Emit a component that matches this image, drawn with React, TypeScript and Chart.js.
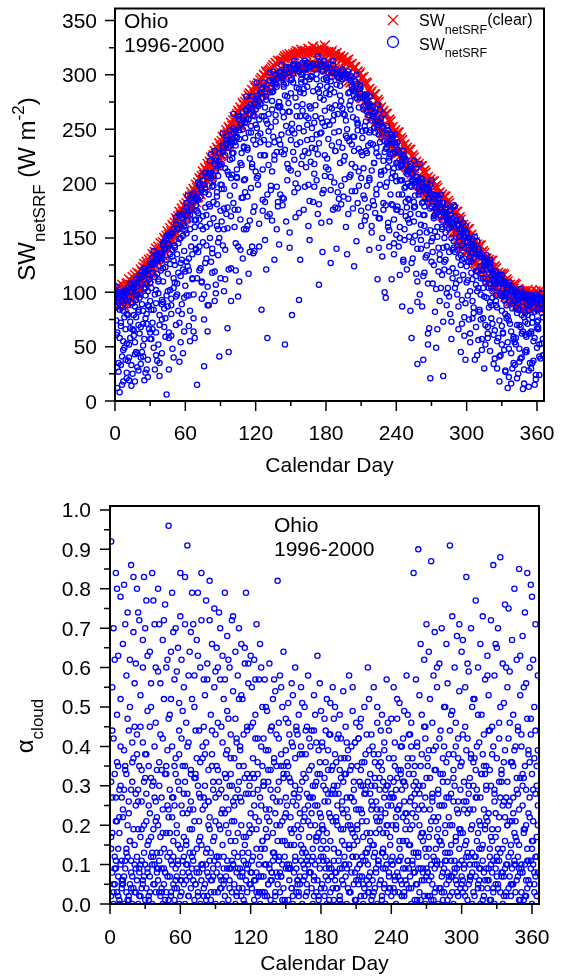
import React, { useEffect, useRef } from 'react';
import { Chart, registerables } from 'chart.js';

Chart.register(...registerables);

const FONT = '"Liberation Sans", Arial, Helvetica, sans-serif';
const NA = null;

// Calendar days (x categories)
const DAYS = [
  1,2,3,4,5,6,7,8,9,10,11,12,13,14,15,16,17,18,19,20,
  21,22,23,24,25,26,27,28,29,30,31,32,33,34,35,36,37,38,39,40,
  41,42,43,44,45,46,47,48,49,50,51,52,53,54,55,56,57,58,59,60,
  61,62,63,64,65,66,67,68,69,70,71,72,73,74,75,76,77,78,79,80,
  81,82,83,84,85,86,87,88,89,90,91,92,93,94,95,96,97,98,99,100,
  101,102,103,104,105,106,107,108,109,110,111,112,113,114,115,116,117,118,119,120,
  121,122,123,124,125,126,127,128,129,130,131,132,133,134,135,136,137,138,139,140,
  141,142,143,144,145,146,147,148,149,150,151,152,153,154,155,156,157,158,159,160,
  161,162,163,164,165,166,167,168,169,170,171,172,173,174,175,176,177,178,179,180,
  181,182,183,184,185,186,187,188,189,190,191,192,193,194,195,196,197,198,199,200,
  201,202,203,204,205,206,207,208,209,210,211,212,213,214,215,216,217,218,219,220,
  221,222,223,224,225,226,227,228,229,230,231,232,233,234,235,236,237,238,239,240,
  241,242,243,244,245,246,247,248,249,250,251,252,253,254,255,256,257,258,259,260,
  261,262,263,264,265,266,267,268,269,270,271,272,273,274,275,276,277,278,279,280,
  281,282,283,284,285,286,287,288,289,290,291,292,293,294,295,296,297,298,299,300,
  301,302,303,304,305,306,307,308,309,310,311,312,313,314,315,316,317,318,319,320,
  321,322,323,324,325,326,327,328,329,330,331,332,333,334,335,336,337,338,339,340,
  341,342,343,344,345,346,347,348,349,350,351,352,353,354,355,356,357,358,359,360,
  361,362,363,364,365,
];

// Clear-sky net surface SW (upper and lower part of the red band)
const CLEAR_HI = [
  104,99,106,102,100,107,103,105,101,108, 108,112,106,110,114,109,116,111,118,113,
  117,121,119,123,126,122,128,125,130,127, 131,135,133,137,140,136,142,139,145,141,
  146,150,148,152,156,153,159,156,162,160, 164,168,166,170,174,171,177,174,180,178,
  182,186,184,188,192,189,195,193,199,196, 201,205,203,207,211,208,214,212,218,215,
  220,224,222,226,230,227,233,231,237,234, 239,243,241,245,249,246,252,250,256,253,
  258,261,260,264,267,265,270,268,274,272, 275,278,277,281,283,282,286,285,290,288,
  290,292,292,295,297,296,300,299,303,301, 303,304,305,307,309,308,311,310,313,312,
  312,313,313,315,317,315,318,316,319,317, 317,319,318,320,322,319,321,320,323,321,
  320,322,319,321,324,320,322,321,326,322, 321,323,320,322,325,320,322,321,327,321,
  320,321,318,320,322,317,319,317,320,316, 315,317,313,315,316,311,313,311,314,309,
  309,310,305,307,307,302,303,300,302,297, 297,298,292,293,292,286,287,283,285,280,
  282,282,276,277,275,269,270,265,267,262, 264,264,258,259,257,251,252,247,249,244,
  247,247,241,242,240,235,236,231,233,229, 231,231,225,226,224,219,220,216,218,214,
  216,216,211,212,210,205,206,202,204,200, 202,202,197,198,196,191,192,188,190,186,
  188,188,183,184,182,177,178,174,176,172, 174,174,168,169,167,161,162,158,160,156,
  158,158,152,153,150,145,146,142,144,140, 143,143,137,138,136,131,131,128,130,126,
  129,129,123,124,122,117,118,115,117,114, 117,116,111,112,110,106,107,104,106,103,
  108,107,102,103,101,98,100,98,101,97, 101,102,97,99,101,96,98,97,101,96,
  100,98,102,97,100,
];
const CLEAR_LO = [
  90,94,88,92,89,95,91,87,93,90, 97,94,99,96,101,98,95,102,99,104,
  106,109,104,111,108,113,110,116,113,118, 120,123,119,126,124,129,127,132,130,134,
  134,138,136,142,140,145,143,148,147,151, 152,155,154,159,158,162,161,166,165,168,
  169,173,171,177,176,180,179,184,183,187, 188,191,190,196,195,199,198,203,202,206,
  207,210,209,215,214,218,217,222,221,225, 226,229,228,234,233,237,236,241,240,244,
  244,247,247,252,251,254,254,258,257,261, 261,264,264,268,267,270,270,273,273,276,
  276,279,278,282,282,284,284,287,287,289, 289,291,291,294,293,296,295,297,297,299,
  298,300,300,302,301,303,302,304,303,305, 303,305,304,306,305,307,306,308,306,308,
  306,308,307,309,307,309,308,310,308,310, 307,309,307,310,308,309,307,310,308,309,
  306,308,305,307,304,306,303,305,302,304, 301,303,299,301,298,299,296,297,294,295,
  293,294,290,290,287,287,283,283,280,279, 279,279,275,274,271,270,266,265,262,260,
  263,262,258,257,254,252,249,247,245,243, 246,244,241,239,237,235,233,231,229,227,
  229,228,225,223,222,220,218,216,215,213, 213,212,209,207,206,204,202,201,199,198,
  198,197,194,193,191,190,188,187,185,184, 184,183,180,179,177,176,174,173,171,170,
  170,169,166,165,163,162,159,158,156,155, 155,154,150,149,146,145,142,141,138,137,
  139,138,134,133,131,129,127,126,123,122, 125,124,120,119,117,116,114,113,111,110,
  112,111,107,107,105,104,102,101,100,99, 100,99,96,96,94,94,92,92,91,90,
  91,91,88,89,87,88,86,87,85,86, 86,87,85,88,86,87,85,88,86,87,
  86,88,85,87,86,
];

// Daily net surface SW, one array per year (W m-2); NA = missing day
const SW_Y1 = [
  98,NA,95,99,NA,97,100,NA,102,99, 104,NA,108,106,NA,103,NA,112,105,NA,
  116,NA,120,NA,122,119,108,NA,121,126, NA,132,126,NA,133,NA,131,136,NA,134,
  143,NA,140,150,NA,153,NA,155,NA,158, NA,163,NA,158,170,NA,172,NA,175,NA,
  178,NA,NA,186,NA,189,NA,NA,187,NA, NA,199,NA,194,NA,NA,210,NA,NA,209,
  209,NA,NA,207,NA,221,NA,NA,220,NA, NA,233,NA,NA,240,NA,NA,235,NA,241,
  247,NA,NA,242,NA,259,NA,NA,258,NA, NA,268,NA,259,NA,NA,269,NA,273,NA,
  278,NA,NA,273,NA,288,NA,NA,287,NA, NA,295,NA,284,NA,NA,293,NA,NA,302,
  299,NA,NA,291,NA,305,NA,NA,302,NA, NA,308,NA,NA,306,NA,303,NA,NA,311,
  306,NA,NA,298,NA,308,NA,NA,309,NA, NA,310,NA,NA,310,NA,304,NA,NA,307,
  306,NA,NA,294,NA,303,NA,NA,302,NA, NA,300,NA,NA,300,NA,301,NA,NA,297,
  295,NA,NA,281,NA,292,NA,NA,284,NA, NA,281,NA,NA,276,NA,272,NA,NA,271,
  266,NA,NA,252,NA,257,NA,NA,251,NA, NA,246,NA,NA,241,NA,237,NA,NA,235,
  231,NA,NA,217,NA,223,NA,NA,217,NA, NA,215,NA,202,NA,NA,206,NA,202,NA,
  201,NA,197,NA,NA,194,NA,193,NA,190, NA,186,NA,174,181,NA,178,NA,174,NA,
  174,NA,169,NA,167,NA,164,NA,160,NA, 166,NA,161,151,NA,158,NA,157,151,NA,
  150,NA,145,136,NA,142,140,NA,135,NA, 135,133,NA,121,128,NA,125,126,NA,123,
  121,NA,117,108,115,NA,113,NA,109,111, 109,108,NA,97,104,NA,102,103,NA,101,
  100,NA,98,90,NA,98,96,NA,94,96, 96,95,NA,88,94,NA,93,95,NA,95,
  94,NA,93,95,NA,
];
const SW_Y2 = [
  74,12,91,58,33,86,47,95,66,21, 88,40,67,101,25,79,54,93,31,70,
  62,108,45,83,19,97,71,38,112,57, 104,66,128,29,90,117,52,79,131,44,
  122,85,141,6,101,63,135,94,48,113, 143,70,108,158,36,127,89,152,64,119,
  97,166,131,55,178,112,76,160,139,15, 173,120,188,94,146,32,196,131,105,181,
  150,205,118,183,92,212,161,134,41,199, 218,143,101,226,172,67,233,189,122,208,
  182,238,145,213,96,249,167,228,131,203, 256,158,231,117,264,196,142,240,179,268,
  205,271,163,246,84,279,226,148,258,190, 264,172,288,211,243,130,291,229,183,270,
  236,298,187,261,52,292,218,274,155,283, 79,301,246,169,288,209,93,262,296,225,
  283,197,305,240,161,271,220,298,183,256, 232,296,172,107,279,247,303,194,267,215,
  289,213,254,127,298,176,263,230,301,192, 248,290,181,269,221,297,160,242,283,206,
  276,193,261,230,285,147,254,211,279,175, 226,271,166,249,198,263,139,237,258,184,
  251,173,228,112,245,199,260,150,221,100, 95,238,164,221,190,112,243,135,207,176,
  219,142,203,174,87,226,158,197,121,212, 185,83,209,146,178,201,117,34,190,155,
  162,196,38,179,132,200,108,186,21,147, 183,125,171,49,189,141,92,176,158,23,
  150,177,88,166,119,171,57,139,162,104, 154,98,132,158,45,143,116,77,150,124,
  111,139,62,128,92,143,38,120,101,135, 82,124,57,113,30,128,95,68,118,46,
  104,71,115,39,92,110,58,18,99,83, 63,96,28,88,12,74,101,44,90,35,
  92,52,81,25,96,68,40,87,16,73, 45,89,62,94,30,77,55,91,20,84,
  66,93,39,81,57,
];
const SW_Y3 = [
  105,63,27,84,99,41,18,77,102,53, 37,96,73,14,104,60,87,45,108,82,
  113,34,89,51,117,26,80,101,66,92, 57,125,84,114,42,135,99,23,120,75,
  91,147,59,130,117,29,152,80,139,104, 109,162,135,83,149,54,168,121,95,157,
  182,124,69,171,142,187,98,150,180,113, 137,199,161,110,203,75,178,143,206,88,
  221,128,197,168,230,107,188,146,217,175, 165,235,195,112,244,159,208,240,92,228,
  251,198,120,243,176,262,139,217,250,158, 204,267,188,247,137,273,218,174,262,236,
  281,199,259,226,287,175,240,270,121,255, 217,295,252,166,285,238,300,197,271,144,
  303,245,180,289,231,307,203,266,141,295, 255,310,192,279,236,309,173,284,218,302,
  176,294,262,311,228,184,299,251,310,209, 305,245,287,181,312,260,137,296,226,309,
  257,302,165,287,235,309,201,272,140,298, 297,219,276,305,188,263,244,300,172,284,
  208,289,243,124,294,259,182,270,290,229, 279,214,253,170,282,235,205,271,155,262,
  180,265,233,254,141,268,208,246,176,239, 232,201,249,157,227,245,180,214,237,153,
  176,229,160,216,190,130,224,183,209,167, 212,172,58,204,165,189,214,140,203,98,
  140,204,171,118,197,155,186,67,199,128, 108,190,156,178,66,187,135,170,116,182,
  172,130,181,104,159,175,73,168,141,179, 118,163,87,147,167,130,152,60,161,109,
  146,75,133,118,149,86,139,107,147,56, 133,98,120,76,129,109,131,62,104,127,
  88,118,61,112,97,30,116,74,108,52, 108,47,98,76,107,22,92,64,104,59,
  33,98,70,94,48,100,79,11,95,61, 97,71,28,91,64,96,37,82,98,49,
  74,24,95,88,42,
];
const SW_Y4 = [
  86,31,100,8,69,92,55,97,38,80, 104,19,58,91,66,109,43,77,98,28,
  95,68,114,41,103,76,120,22,87,109, 127,72,138,98,63,129,110,35,136,89,
  145,68,123,152,87,144,102,60,154,129, 125,169,98,145,172,115,80,163,138,171,
  154,189,120,83,176,135,191,58,167,186, 201,167,122,207,158,98,192,171,64,210,
  179,227,140,203,119,224,192,158,228,113, 199,246,177,139,237,211,45,249,170,223,
  264,160,235,206,262,110,255,187,266,234, 242,280,161,270,223,253,280,136,274,211,
  293,244,142,284,262,213,293,183,277,58, 248,302,194,276,303,226,263,158,297,240,
  190,309,266,227,300,165,280,247,307,212, 296,229,313,200,271,308,251,130,293,267,
  248,313,215,289,260,148,307,233,285,197, 272,203,317,237,290,164,256,313,207,283,
  223,310,282,194,269,313,247,178,291,264, 186,271,303,233,300,204,258,135,303,239,
  299,236,177,285,215,300,249,198,287,161, 248,189,282,230,266,178,247,280,212,236,
  219,257,190,273,225,168,255,133,264,212, 180,253,215,142,240,205,228,167,245,219,
  238,190,116,218,203,230,148,222,178,200, 151,218,197,131,221,179,206,110,195,218,
  205,87,183,161,191,143,52,196,177,203, 150,170,189,103,160,180,130,190,166,73,
  128,176,142,164,96,176,150,122,180,137, 166,139,162,111,134,71,164,141,90,155,
  128,150,101,142,76,131,151,115,42,140, 137,75,132,104,124,52,134,112,86,130,
  120,95,110,65,119,86,104,115,42,116, 96,110,80,103,54,109,71,106,30,98,
  102,58,97,84,36,103,62,99,77,45, 59,98,83,35,97,72,94,15,90,67,
  96,52,85,99,77,
];
const SW_Y5 = [
  61,88,35,97,72,15,83,49,93,26, 79,52,101,33,90,65,18,97,44,84,
  98,40,116,71,57,104,29,88,112,63, 84,118,49,126,102,37,112,70,129,93,
  110,139,76,97,145,58,126,88,133,40, 141,96,159,118,72,150,130,44,161,106,
  128,171,97,158,180,113,64,166,140,175, 185,142,196,109,170,199,127,160,88,190,
  163,210,136,198,218,99,181,207,150,215, 195,229,158,214,236,178,121,222,205,238,
  228,176,249,205,142,241,219,255,187,233, 192,259,233,270,166,247,215,263,138,254,
  251,207,276,238,284,185,262,226,280,170, 236,284,198,268,294,222,257,289,179,275,
  271,229,297,186,281,253,302,214,266,240, 249,293,222,305,262,196,287,238,300,273,
  287,230,306,254,199,296,269,241,309,218, 262,301,227,284,246,308,191,277,253,297,
  295,241,270,206,302,258,284,230,305,177, 238,281,198,296,264,225,300,250,186,272,
  268,218,287,243,193,279,256,232,291,205, 242,268,186,257,228,274,203,249,161,264,
  219,247,195,259,168,238,211,252,182,229, 197,233,160,224,239,181,210,145,228,202,
  179,215,150,203,224,128,196,170,211,186, 164,198,127,209,183,152,201,91,172,193,
  148,182,115,171,196,134,62,187,157,179, 137,168,82,176,151,119,182,104,160,141,
  121,155,99,167,137,80,160,113,147,170, 108,142,66,151,125,93,155,131,38,146,
  97,128,54,137,112,81,140,68,119,104, 84,113,47,121,96,70,126,58,108,91,
  76,101,34,110,88,55,114,41,97,69, 62,93,27,99,78,48,102,16,85,57,
  54,86,21,93,70,39,95,64,29,81, 47,79,13,89,62,35,92,58,24,73,
  68,41,90,53,85,
];

// Cloud albedo, one array per year
const AC_Y1 = [
  .02,.08,0,.05,.11,.03,.07,0,.1,.04, .06,0,.09,.03,.12,.01,.05,.08,0,.04,
  .1,.03,.06,0,.09,.02,.11,.05,.07,.01, .04,.09,.01,.07,.12,0,.05,.1,.03,.08,
  .06,.11,.02,.09,0,.05,.08,.03,.12,.01, .07,.02,.1,.05,.01,.09,.04,.11,0,.06,
  .03,.08,.12,0,.06,.1,.02,.07,.04,.09, .11,.01,.05,.09,.03,.08,0,.06,.1,.02,
  .05,.1,.02,.07,.11,.01,.06,.09,.03,0, .08,.03,.12,.04,.06,0,.09,.02,.07,.11,
  .01,.06,.09,.03,.1,.05,0,.08,.12,.04, .09,.02,.07,.11,0,.06,.03,.1,.05,.08,
  .04,.12,.01,.06,.08,.02,.1,0,.07,.03, .07,.03,.1,.02,.05,.09,.01,.06,.11,0,
  .02,.08,.05,.12,.03,.07,.1,.04,0,.09, .1,.01,.06,.09,.04,0,.08,.11,.03,.05,
  .03,.07,.11,0,.06,.09,.02,.05,.1,.08, .08,.04,0,.07,.1,.03,.06,.01,.09,.12,
  .05,.11,.02,.09,0,.06,.1,.03,.07,.04, .01,.06,.08,.04,.11,.02,0,.09,.05,.1,
  .07,0,.04,.1,.03,.08,.12,.05,.01,.06, .09,.05,.1,.02,.07,0,.04,.11,.06,.03,
  .03,.08,.01,.06,.12,.04,.09,0,.1,.05, .06,.02,.09,.05,0,.1,.03,.07,.04,.11,
  .1,.04,.07,0,.08,.03,.11,.06,.02,.09, .02,.09,.05,.11,.04,.07,0,.1,.08,.01,
  .05,.01,.12,.03,.09,.06,.08,.02,0,.07, .08,.06,.02,.1,.05,.01,.09,.04,.11,0,
  .04,.1,.07,.01,.03,.11,.05,.08,.06,.02, .11,.03,0,.08,.06,.09,.02,.1,.04,.07,
  .06,.09,.04,.12,.01,.05,.1,.07,0,.03, .02,.07,.1,.05,.09,0,.04,.11,.08,.06,
  .09,.04,.06,.01,.1,.08,.03,0,.05,.12, .05,.11,.03,.08,0,.07,.09,.02,.1,.04,
  .07,.02,.09,.05,.1,.03,.06,.12,.01,.08, .03,.08,.01,.1,.06,.04,.11,.05,.09,0,
  .1,.05,.07,.02,.08,
];
const AC_Y2 = [
  .31,.18,.42,.09,.27,.36,.14,.22,.4,.06, .24,.39,.11,.33,.2,.44,.16,.29,.07,.37,
  .15,.28,.43,.19,.35,.1,.26,.41,.13,.32, .38,.08,.25,.45,.17,.3,.12,.4,.21,.34,
  .2,.36,.13,.27,.42,.09,.33,.18,.39,.24, .29,.11,.4,.16,.25,.37,.07,.31,.44,.14,
  .42,.23,.17,.35,.1,.28,.41,.19,.26,.12, .13,.32,.44,.08,.3,.21,.36,.15,.4,.27,
  .25,.41,.14,.34,.22,.06,.38,.29,.17,.43, .35,.1,.28,.19,.45,.24,.12,.33,.2,.39,
  .18,.3,.43,.11,.26,.37,.16,.42,.09,.31, .4,.2,.08,.35,.15,.28,.44,.13,.32,.23,
  .11,.37,.25,.42,.19,.33,.07,.27,.4,.16, .3,.14,.39,.22,.34,.1,.29,.45,.18,.36,
  .23,.43,.16,.31,.08,.38,.21,.35,.12,.27, .36,.09,.32,.19,.41,.26,.15,.3,.44,.2,
  .17,.29,.4,.13,.33,.22,.38,.11,.25,.42, .27,.35,.12,.44,.2,.31,.17,.39,.23,.14,
  .41,.19,.26,.36,.11,.28,.43,.16,.34,.21, .14,.38,.22,.3,.43,.09,.32,.24,.19,.37,
  .33,.24,.37,.15,.27,.4,.18,.29,.41,.12, .2,.42,.1,.34,.23,.17,.36,.28,.13,.31,
  .39,.16,.3,.25,.38,.13,.26,.21,.35,.19, .24,.34,.18,.41,.12,.3,.2,.37,.15,.28,
  .12,.27,.35,.2,.32,.24,.16,.4,.29,.22, .31,.19,.23,.37,.15,.43,.27,.11,.33,.25,
  .22,.4,.13,.28,.35,.18,.3,.24,.42,.09, .37,.14,.32,.21,.26,.39,.11,.34,.17,.29,
  .16,.33,.25,.08,.4,.2,.36,.13,.27,.44, .28,.07,.38,.3,.17,.24,.42,.19,.35,.11,
  .43,.26,.15,.39,.23,.12,.32,.37,.2,.3, .1,.34,.29,.18,.41,.27,.14,.38,.24,.33,
  .35,.21,.44,.12,.3,.16,.4,.26,.09,.37, .19,.42,.27,.33,.14,.36,.22,.1,.31,.25,
  .26,.13,.36,.23,.39,.17,.29,.44,.15,.32, .4,.3,.18,.35,.2,.11,.38,.27,.43,.16,
  .21,.37,.12,.3,.25,
];
const AC_Y3 = [
  .92,.55,.7,.12,.84,.48,.63,.29,.78,.05, .66,.81,.34,.58,.74,.02,.5,.86,.41,.69,
  .45,.61,.8,.26,.72,.53,.04,.67,.83,.38, .77,.49,.16,.64,.56,.84,.31,.71,.6,.22,
  .59,.71,.43,.03,.67,.52,.76,.35,.62,.96, .48,.64,.79,.27,.57,.7,.18,.65,.51,.73,
  .62,.35,.55,.83,.46,.91,.58,.24,.69,.52, .71,.5,.32,.67,.79,.44,.6,.84,.37,.57,
  .53,.77,.61,.2,.72,.48,.66,.31,.75,.59, .65,.46,.74,.57,.04,.63,.52,.79,.38,.68,
  .47,.6,.33,.72,.54,.25,.64,.41,.58,.7, .39,.66,.52,.17,.61,.79,.45,.56,.3,.63,
  .55,.28,.62,.48,.71,.36,.57,.03,.6,.5, .42,.57,.19,.49,.31,.61,.44,.08,.52,.37,
  .54,.26,.82,.46,.58,.35,.5,.64,.22,.47, .33,.51,.43,.15,.56,.4,.28,.6,.45,.06,
  .48,.23,.55,.38,.14,.5,.32,.45,.58,.27, .2,.44,.3,.53,.25,.41,.63,.18,.36,.49,
  .4,.16,.47,.29,.52,.34,.09,.43,.28,.55, .3,.5,.21,.42,.13,.48,.37,.26,.54,.33,
  .45,.27,.39,.58,.2,.35,.49,.15,.41,.24, .19,.42,.31,.47,.36,.11,.5,.29,.43,.6,
  .52,.33,.24,.4,.55,.3,.18,.46,.38,.21, .36,.48,.14,.39,.29,.57,.25,.44,.32,.47,
  .27,.55,.41,.22,.47,.34,.51,.12,.4,.31, .49,.23,.58,.35,.43,.19,.46,.37,.84,.28,
  .57,.41,.9,.3,.66,.48,.16,.62,.45,.71, .35,.64,.52,.87,.27,.58,.69,.4,.55,.22,
  .61,.44,.7,.33,.5,.13,.66,.56,.38,.91, .48,.73,.26,.6,.46,.68,.37,.54,.19,.64,
  .67,.31,.55,.83,.42,.59,.24,.7,.5,.36, .52,.77,.4,.6,.14,.66,.48,.73,.35,.57,
  .29,.63,.53,.44,.72,.38,.86,.58,.23,.65, .7,.46,.88,.34,.61,.51,.76,.27,.55,.42,
  .59,.36,.67,.48,.8,.21,.62,.45,.85,.53, .43,.68,.32,.74,.56,.84,.39,.6,.47,.78,
  .62,.5,.71,.35,.58,
];
const AC_Y4 = [
  .17,.44,.03,.62,.21,.8,.35,.01,.52,.27, .05,.29,.71,.14,.47,.23,.62,.11,.36,.83,
  .56,.09,.38,.74,.02,.45,.19,.6,.31,.7, .21,.63,.35,.03,.5,.13,.77,.27,.46,.09,
  .8,.03,.56,.34,.18,.72,.08,.6,.25,.47, .13,.52,.22,.69,.04,.33,.59,.1,.38,.84,
  .06,.49,.28,.71,.15,.4,.02,.64,.33,.79, .24,.58,.05,.37,.63,.16,.27,.72,.09,.45,
  .38,.01,.57,.26,.82,.13,.44,.07,.55,.21, .12,.6,.31,.7,.23,.41,.06,.57,.27,.49,
  .62,.09,.37,.21,.73,.13,.47,.03,.29,.52, .27,.53,.04,.43,.65,.1,.33,.61,.18,.45,
  .08,.46,.32,.57,.03,.42,.21,.66,.14,.35, .3,.02,.5,.17,.39,.24,.06,.45,.13,.57,
  .12,.35,.07,.42,.2,.55,.01,.33,.16,.39, .25,.46,.1,.31,.04,.53,.19,.37,.09,.43,
  .02,.38,.15,.51,.21,.07,.44,.28,.12,.34, .4,.11,.27,.06,.48,.17,.33,.02,.56,.22,
  .19,.3,.04,.44,.14,.39,.23,.51,.07,.35, .47,.08,.36,.2,.28,.01,.42,.16,.31,.12,
  .1,.41,.22,.03,.34,.19,.55,.26,.08,.46, .35,.06,.45,.24,.12,.3,.02,.38,.21,.14,
  .07,.28,.43,.15,.03,.36,.22,.5,.11,.32, .44,.13,.31,.04,.23,.18,.46,.08,.27,.02,
  .2,.37,.06,.29,.52,.11,.25,.33,.05,.42, .03,.3,.16,.48,.09,.26,.4,.2,.13,.35,
  .31,.05,.24,.53,.17,.38,.09,.45,.27,.12, .08,.39,.19,.01,.46,.22,.34,.14,.6,.28,
  .42,.16,.03,.37,.25,.5,.11,.31,.07,.2, .15,.49,.32,.09,.4,.05,.26,.71,.18,.36,
  .03,.24,.45,.16,.61,.28,.07,.38,.13,.52, .37,.12,.27,.48,.06,.2,.33,.01,.43,.19,
  .22,.58,.09,.34,.17,.45,.04,.29,.66,.11, .14,.31,.5,.07,.25,.02,.39,.6,.2,.75,
  .46,.05,.21,.35,.11,.4,.16,.28,.09,.63, .1,.33,.55,.19,.02,.47,.23,.36,.81,.14,
  .29,.08,.44,.17,.39,
];
const AC_Y5 = [
  .14,.27,.05,.33,.09,.21,.02,.18,.3,.11, .22,.07,.35,.13,.01,.26,.16,.04,.31,.19,
  .03,.25,.12,.29,.08,.17,.34,.06,.2,.1, .28,.15,.02,.23,.32,.1,.19,.05,.26,.13,
  .09,.3,.17,.04,.24,.14,.01,.33,.07,.22, .18,.03,.27,.12,.35,.06,.2,.15,.29,.02,
  .25,.11,.05,.31,.16,.23,.08,.13,.34,.19, .06,.21,.33,.14,.02,.28,.17,.1,.24,.04,
  .3,.13,.08,.26,.19,.03,.35,.16,.11,.27, .12,.34,.2,.07,.29,.15,.05,.23,.32,.09,
  .24,.04,.16,.3,.1,.21,.27,.02,.18,.35, .07,.26,.13,.01,.32,.17,.09,.28,.2,.05,
  .19,.33,.06,.22,.14,.29,.03,.12,.25,.16, .31,.1,.24,.17,.05,.21,.34,.08,.27,.13,
  .03,.2,.29,.11,.26,.07,.16,.32,.01,.23, .15,.35,.09,.22,.18,.02,.28,.12,.25,.06,
  .27,.05,.19,.31,.1,.24,.13,.03,.21,.17, .08,.23,.14,.02,.3,.16,.25,.11,.33,.04,
  .2,.12,.32,.07,.18,.26,.01,.22,.09,.29, .11,.28,.04,.25,.13,.34,.19,.06,.23,.15,
  .33,.09,.2,.14,.03,.27,.12,.31,.17,.01, .16,.24,.07,.3,.21,.05,.28,.13,.18,.1,
  .05,.18,.26,.02,.15,.32,.08,.24,.11,.29, .22,.01,.13,.27,.09,.2,.3,.04,.17,.25,
  .1,.31,.03,.19,.24,.07,.14,.34,.02,.16, .26,.06,.21,.11,.33,.15,.04,.23,.3,.08,
  .13,.29,.09,.2,.01,.25,.18,.06,.14,.32, .02,.17,.24,.07,.28,.12,.03,.21,.1,.19,
  .25,.04,.15,.31,.09,.18,.27,.01,.22,.13, .07,.2,.34,.11,.16,.03,.23,.14,.29,.05,
  .18,.1,.02,.26,.13,.3,.06,.19,.08,.24, .12,.27,.16,.04,.21,.09,.33,.15,.02,.2,
  .3,.06,.23,.14,.01,.19,.11,.28,.17,.07, .04,.22,.13,.31,.08,.26,.16,.03,.2,.12,
  .21,.15,.05,.27,.18,.1,.32,.07,.24,.01, .09,.25,.19,.02,.29,.14,.06,.22,.11,.33,
  .16,.03,.28,.12,.2,
];

const X_TICKS = [0, 60, 120, 180, 240, 300, 360];
const X_MINOR = [30, 90, 150, 210, 270, 330];
const SW_TICKS = [0, 50, 100, 150, 200, 250, 300, 350];
const SW_MINOR = [25, 75, 125, 175, 225, 275, 325];
const AC_TICKS = [0, 0.1, 0.2, 0.3, 0.4, 0.5, 0.6, 0.7, 0.8, 0.9, 1.0];
const AC_MINOR = [0.05, 0.15, 0.25, 0.35, 0.45, 0.55, 0.65, 0.75, 0.85, 0.95];

const BLUE = '#0000ff';
const RED = '#ff0000';

function toPoints(arr: (number | null)[]) {
  const pts: { x: number; y: number }[] = [];
  arr.forEach((v, i) => {
    if (v !== null && v !== undefined && i < DAYS.length) pts.push({ x: DAYS[i], y: v });
  });
  return pts;
}

type Run = { t: string; size: number; dy: number };

function drawRuns(ctx: CanvasRenderingContext2D, runs: Run[], x: number, y: number, center: boolean) {
  let total = 0;
  runs.forEach((r) => {
    ctx.font = `${r.size}px ${FONT}`;
    total += ctx.measureText(r.t).width;
  });
  let cx = center ? x - total / 2 : x;
  runs.forEach((r) => {
    ctx.font = `${r.size}px ${FONT}`;
    ctx.fillText(r.t, cx, y + r.dy);
    cx += ctx.measureText(r.t).width;
  });
}

type AxisCfg = {
  xMajor: number[];
  xMinor: number[];
  yMajor: number[];
  yMinor: number[];
  yFmt: (v: number) => string;
  yLabelGap: number;
  xLabelBase: number;
};

function axisPlugin(c: AxisCfg) {
  return {
    id: 'axisFrame',
    afterDatasetsDraw(chart: any) {
      const { ctx, chartArea: a, scales } = chart;
      const xs = scales.x;
      const ys = scales.y;
      ctx.save();
      ctx.strokeStyle = '#000';
      ctx.lineWidth = 1.5;
      ctx.beginPath();
      c.xMajor.forEach((v) => {
        const p = xs.getPixelForValue(v);
        ctx.moveTo(p, a.bottom);
        ctx.lineTo(p, a.bottom + 10);
      });
      c.xMinor.forEach((v) => {
        const p = xs.getPixelForValue(v);
        ctx.moveTo(p, a.bottom);
        ctx.lineTo(p, a.bottom + 5);
      });
      c.yMajor.forEach((v) => {
        const p = ys.getPixelForValue(v);
        ctx.moveTo(a.left, p);
        ctx.lineTo(a.left - 10, p);
      });
      c.yMinor.forEach((v) => {
        const p = ys.getPixelForValue(v);
        ctx.moveTo(a.left, p);
        ctx.lineTo(a.left - 6, p);
      });
      ctx.stroke();
      ctx.lineWidth = 2;
      ctx.strokeRect(a.left, a.top, a.right - a.left, a.bottom - a.top);

      // tick labels
      ctx.fillStyle = '#000';
      ctx.font = `21px ${FONT}`;
      ctx.textBaseline = 'alphabetic';
      ctx.textAlign = 'center';
      c.xMajor.forEach((v) => {
        ctx.fillText(String(v), xs.getPixelForValue(v), a.bottom + c.xLabelBase);
      });
      ctx.textAlign = 'right';
      c.yMajor.forEach((v) => {
        ctx.fillText(c.yFmt(v), a.left - c.yLabelGap, ys.getPixelForValue(v) + 7.5);
      });
      ctx.restore();
    },
  };
}

const topTextPlugin = {
  id: 'topText',
  afterDraw(chart: any) {
    const ctx: CanvasRenderingContext2D = chart.ctx;
    ctx.save();
    ctx.fillStyle = '#000';
    ctx.textBaseline = 'alphabetic';
    ctx.textAlign = 'left';
    ctx.font = `21px ${FONT}`;
    ctx.fillText('Ohio', 124, 28);
    ctx.fillText('1996-2000', 124, 52);

    // legend
    ctx.strokeStyle = RED;
    ctx.lineWidth = 1.3;
    ctx.beginPath();
    ctx.moveTo(388, 15);
    ctx.lineTo(398, 25);
    ctx.moveTo(398, 15);
    ctx.lineTo(388, 25);
    ctx.stroke();
    ctx.strokeStyle = BLUE;
    ctx.beginPath();
    ctx.arc(393, 42, 5.5, 0, Math.PI * 2);
    ctx.stroke();
    drawRuns(ctx, [
      { t: 'SW', size: 16, dy: 0 },
      { t: 'netSRF', size: 12.5, dy: 8 },
      { t: '(clear)', size: 16, dy: -1 },
    ], 419, 26, false);
    drawRuns(ctx, [
      { t: 'SW', size: 16, dy: 0 },
      { t: 'netSRF', size: 12.5, dy: 7 },
    ], 419, 50, false);

    // y-axis title
    ctx.translate(35, 189);
    ctx.rotate(-Math.PI / 2);
    drawRuns(ctx, [
      { t: 'SW', size: 24, dy: 0 },
      { t: 'netSRF', size: 17, dy: 10 },
      { t: ' (W m', size: 24, dy: 0 },
      { t: '-2', size: 17, dy: -11 },
      { t: ')', size: 24, dy: 0 },
    ], 0, 0, true);
    ctx.restore();
  },
};

const botTextPlugin = {
  id: 'botText',
  afterDraw(chart: any) {
    const ctx: CanvasRenderingContext2D = chart.ctx;
    ctx.save();
    ctx.fillStyle = '#000';
    ctx.textBaseline = 'alphabetic';
    ctx.textAlign = 'left';
    ctx.font = `21px ${FONT}`;
    ctx.fillText('Ohio', 274, 52);
    ctx.fillText('1996-2000', 274, 76);

    ctx.translate(33, 246);
    ctx.rotate(-Math.PI / 2);
    drawRuns(ctx, [
      { t: 'α', size: 24, dy: 0 },
      { t: 'cloud', size: 17, dy: 10 },
    ], 0, 0, true);
    ctx.restore();
  },
};

function blueSet(label: string, data: { x: number; y: number }[]) {
  return {
    label,
    data,
    pointStyle: 'circle',
    pointRadius: 2.6,
    borderWidth: 1.3,
    borderColor: BLUE,
    backgroundColor: 'rgba(0,0,0,0)',
  };
}

export default function App() {
  const topRef = useRef<HTMLCanvasElement>(null);
  const botRef = useRef<HTMLCanvasElement>(null);

  useEffect(() => {
    Chart.defaults.font.family = FONT;
    Chart.defaults.color = '#000';

    const hiddenTicks = { display: false };

    const top = new Chart(topRef.current as HTMLCanvasElement, {
      type: 'scatter',
      data: {
        datasets: [
          blueSet('SWnetSRF', [
            ...toPoints(SW_Y1), ...toPoints(SW_Y2), ...toPoints(SW_Y3), ...toPoints(SW_Y4), ...toPoints(SW_Y5),
          ]),
          {
            label: 'SWnetSRF(clear)',
            data: [...toPoints(CLEAR_HI), ...toPoints(CLEAR_LO)],
            pointStyle: 'crossRot',
            pointRadius: 7,
            borderWidth: 1.5,
            borderColor: RED,
            backgroundColor: RED,
          },
        ],
      },
      options: {
        responsive: false,
        animation: false,
        devicePixelRatio: 1,
        layout: { padding: { left: 0, right: 30, top: 2, bottom: 0 } },
        plugins: { legend: { display: false }, tooltip: { enabled: false } },
        scales: {
          x: {
            type: 'linear',
            min: 0,
            max: 366,
            grid: { display: false },
            border: { display: false },
            ticks: hiddenTicks,
            afterFit: (s: any) => { s.height = 79; s.paddingLeft = 0; s.paddingRight = 0; },
            title: { display: true, text: 'Calendar Day', font: { size: 21, family: FONT }, color: '#000', padding: { top: 0, bottom: 1 } },
          },
          y: {
            type: 'linear',
            min: 0,
            max: 361,
            grid: { display: false },
            border: { display: false },
            ticks: hiddenTicks,
            afterFit: (s: any) => { s.width = 115; s.paddingTop = 0; s.paddingBottom = 0; },
          },
        },
      } as any,
      plugins: [
        axisPlugin({
          xMajor: X_TICKS, xMinor: X_MINOR, yMajor: SW_TICKS, yMinor: SW_MINOR,
          yFmt: (v) => String(v), yLabelGap: 18, xLabelBase: 38.5,
        }),
        topTextPlugin,
      ],
    });

    const bot = new Chart(botRef.current as HTMLCanvasElement, {
      type: 'scatter',
      data: {
        datasets: [
          blueSet('alpha_cloud', [
            ...toPoints(AC_Y1), ...toPoints(AC_Y2), ...toPoints(AC_Y3), ...toPoints(AC_Y4), ...toPoints(AC_Y5),
          ]),
        ],
      },
      options: {
        responsive: false,
        animation: false,
        devicePixelRatio: 1,
        layout: { padding: { left: 0, right: 35, top: 26, bottom: 0 } },
        plugins: { legend: { display: false }, tooltip: { enabled: false } },
        scales: {
          x: {
            type: 'linear',
            min: 0,
            max: 366,
            grid: { display: false },
            border: { display: false },
            ticks: hiddenTicks,
            afterFit: (s: any) => { s.height = 75; s.paddingLeft = 0; s.paddingRight = 0; },
            title: { display: true, text: 'Calendar Day', font: { size: 21, family: FONT }, color: '#000', padding: { top: 0, bottom: 2 } },
          },
          y: {
            type: 'linear',
            min: 0,
            max: 1.01,
            grid: { display: false },
            border: { display: false },
            ticks: hiddenTicks,
            afterFit: (s: any) => { s.width = 110; s.paddingTop = 0; s.paddingBottom = 0; },
          },
        },
      } as any,
      plugins: [
        axisPlugin({
          xMajor: X_TICKS, xMinor: X_MINOR, yMajor: AC_TICKS, yMinor: AC_MINOR,
          yFmt: (v) => v.toFixed(1), yLabelGap: 19, xLabelBase: 40,
        }),
        botTextPlugin,
      ],
    });

    return () => {
      top.destroy();
      bot.destroy();
    };
  }, []);

  return (
    <div style={{ position: 'absolute', left: 0, top: 0, width: 574, height: 979, background: '#fff' }}>
      <canvas ref={topRef} width={574} height={480} style={{ position: 'absolute', left: 0, top: 0 }} />
      <canvas ref={botRef} width={574} height={499} style={{ position: 'absolute', left: 0, top: 480 }} />
    </div>
  );
}
